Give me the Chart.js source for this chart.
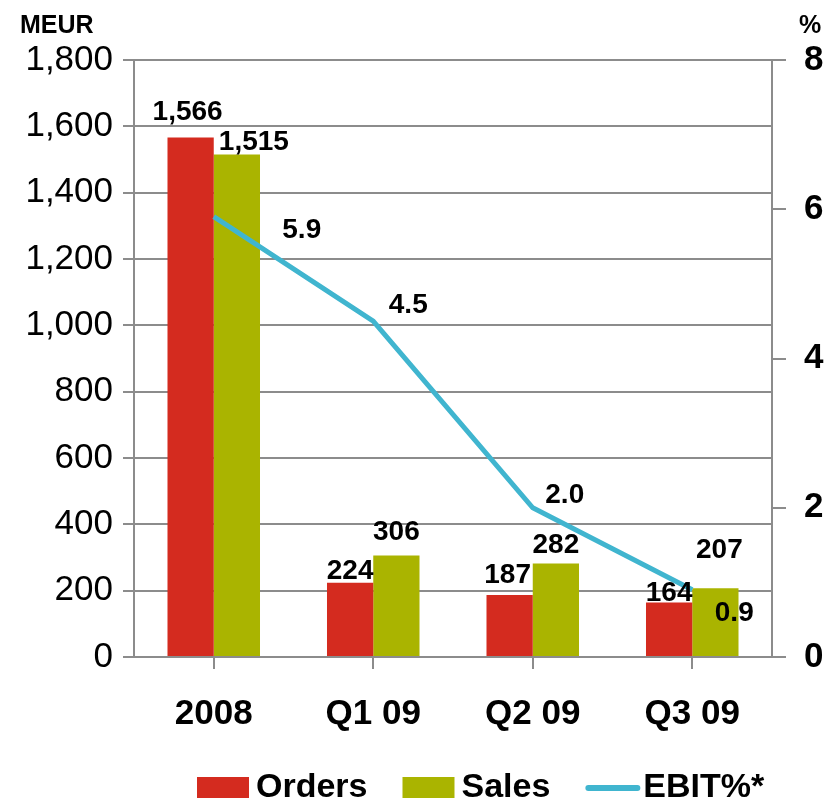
<!DOCTYPE html>
<html>
<head>
<meta charset="utf-8">
<script src="https://cdn.jsdelivr.net/npm/chart.js@4"></script>
<style>
  html, body { margin: 0; padding: 0; background: #fff; }
  #wrap { width: 831px; height: 805px; }
</style>
</head>
<body>
<div id="wrap"><canvas id="graph"></canvas></div>
<script>
const periods = ['2008', 'Q1 09', 'Q2 09', 'Q3 09'];
const orders = [1566, 224, 187, 164];
const sales = [1515, 306, 282, 207];
const ebit = [5.9, 4.5, 2.0, 0.9];

const orderLabels = ['1,566', '224', '187', '164'];
const salesLabels = ['1,515', '306', '282', '207'];
const ebitLabels = ['5.9', '4.5', '2.0', '0.9'];

const FONT = '"Liberation Sans", Arial, sans-serif';
const gridGrey = '#8c8c8c';

// text that Chart.js has no slot for: unit labels and value labels
const labelPlugin = {
    id: 'valueLabels',
    afterDatasetsDraw(chart) {
        const ctx = chart.ctx;
        ctx.save();
        ctx.fillStyle = '#000';
        ctx.font = 'bold 28px ' + FONT;
        ctx.textAlign = 'center';
        ctx.textBaseline = 'alphabetic';

        const barTexts = [orderLabels, salesLabels];
        const nudge = [[-3, 0, -2, 0], [17, 0, 0, 4]];
        const lift = [[18, 4, 12, 2], [5, 16, 10, 30]];
        [0, 1].forEach(function(d) {
            chart.getDatasetMeta(d).data.forEach(function(bar, i) {
                ctx.fillText(barTexts[d][i], bar.x + nudge[d][i], bar.y - lift[d][i]);
            });
        });

        const off = [[88, 21], [35, -8], [32, -5], [42, 31]];
        chart.getDatasetMeta(2).data.forEach(function(pt, i) {
            ctx.fillText(ebitLabels[i], pt.x + off[i][0], pt.y + off[i][1]);
        });

        ctx.font = 'bold 25px ' + FONT;
        ctx.textAlign = 'left';
        ctx.fillText('MEUR', 20, 33);
        ctx.fillText('%', 799, 33);
        ctx.restore();
    }
};

// legend drawn by hand so the swatch/text spacing matches the slide
const slideLegend = {
    id: 'slideLegend',
    afterDraw(chart) {
        const ctx = chart.ctx;
        const y = 788;
        let x = 197;
        ctx.save();
        ctx.font = 'bold 34px ' + FONT;
        ctx.textBaseline = 'middle';
        ctx.textAlign = 'left';
        chart.data.datasets.forEach(function(ds) {
            if (ds.type === 'line') {
                ctx.strokeStyle = ds.borderColor;
                ctx.lineWidth = 6;
                ctx.lineCap = 'round';
                ctx.beginPath();
                ctx.moveTo(x + 3, y);
                ctx.lineTo(x + 52, y);
                ctx.stroke();
                x += 58;
            } else {
                ctx.fillStyle = ds.backgroundColor;
                ctx.fillRect(x, y - 11, 52, 21);
                x += 59;
            }
            ctx.fillStyle = '#000';
            ctx.fillText(ds.label, x, y);
            x += ctx.measureText(ds.label).width + 35;
        });
        ctx.restore();
    }
};

new Chart(document.querySelector('#graph'), {
    type: 'bar',
    data: {
        labels: periods,
        datasets: [{
            label: 'Orders',
            data: orders,
            backgroundColor: '#d42b1f',
            yAxisID: 'y',
            order: 1
        },
        {
            label: 'Sales',
            data: sales,
            backgroundColor: '#aab400',
            yAxisID: 'y',
            order: 1
        },
        {
            type: 'line',
            label: 'EBIT%*',
            data: ebit,
            borderColor: '#40b5cf',
            backgroundColor: '#40b5cf',
            borderWidth: 5,
            pointRadius: 0,
            tension: 0,
            yAxisID: 'y1',
            order: 0
        }]
    },
    options: {
        responsive: true,
        maintainAspectRatio: false,
        animation: false,
        categoryPercentage: 0.58,
        barPercentage: 1,
        layout: {
            padding: { top: 60, left: 0, right: 0, bottom: 46 }
        },
        plugins: {
            tooltip: { enabled: false },
            legend: { display: false }
        },
        scales: {
            x: {
                offset: true,
                grid: {
                    drawOnChartArea: false,
                    color: gridGrey,
                    lineWidth: 2,
                    tickLength: 12,
                    offset: false
                },
                border: { display: false },
                ticks: {
                    color: '#000',
                    font: { family: FONT, size: 35, weight: 'bold' },
                    padding: 24
                },
                afterFit(scale) { scale.height = 102; }
            },
            y: {
                position: 'left',
                min: 0,
                max: 1800,
                ticks: {
                    stepSize: 200,
                    color: '#000',
                    font: { family: FONT, size: 35 },
                    padding: 10,
                    callback: function(v) { return v.toLocaleString('en-US'); }
                },
                grid: {
                    color: gridGrey,
                    lineWidth: 2,
                    tickLength: 11
                },
                border: { color: gridGrey, width: 2 },
                afterFit(scale) { scale.width = 134; }
            },
            y1: {
                position: 'right',
                min: 0,
                max: 8,
                ticks: {
                    stepSize: 2,
                    color: '#000',
                    font: { family: FONT, size: 35, weight: 'bold' },
                    padding: 18
                },
                grid: {
                    drawOnChartArea: false,
                    color: gridGrey,
                    lineWidth: 2,
                    tickLength: 14
                },
                border: { color: gridGrey, width: 2 },
                afterFit(scale) { scale.width = 59; }
            }
        }
    },
    plugins: [labelPlugin, slideLegend]
});
</script>
</body>
</html>
